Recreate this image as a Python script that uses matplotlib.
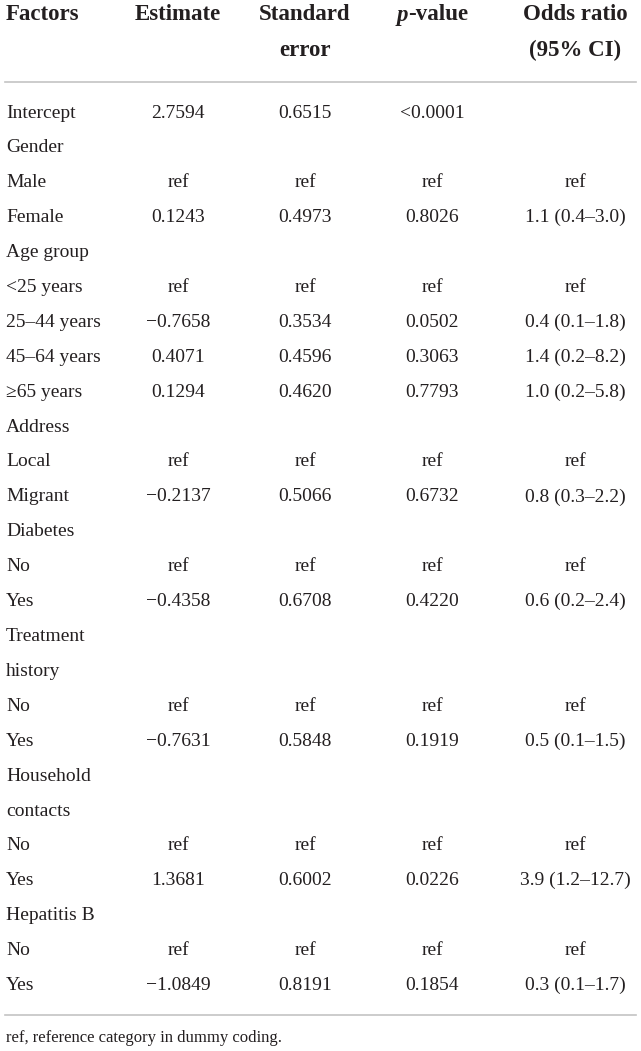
import matplotlib
matplotlib.use("Agg")
import matplotlib.pyplot as plt

# table contents, one entry per printed row ('' = empty cell)
factors = ["Intercept", "Gender", "Male", "Female", "Age group", "<25 years",
           "25\u201344 years", "45\u201364 years", "\u226565 years", "Address",
           "Local", "Migrant", "Diabetes", "No", "Yes", "Treatment", "history",
           "No", "Yes", "Household", "contacts", "No", "Yes", "Hepatitis B",
           "No", "Yes"]
estimate = ["2.7594", "", "ref", "0.1243", "", "ref", "\u22120.7658", "0.4071",
            "0.1294", "", "ref", "\u22120.2137", "", "ref", "\u22120.4358", "", "",
            "ref", "\u22120.7631", "", "", "ref", "1.3681", "", "ref", "\u22121.0849"]
std_error = ["0.6515", "", "ref", "0.4973", "", "ref", "0.3534", "0.4596",
             "0.4620", "", "ref", "0.5066", "", "ref", "0.6708", "", "",
             "ref", "0.5848", "", "", "ref", "0.6002", "", "ref", "0.8191"]
p_value = ["<0.0001", "", "ref", "0.8026", "", "ref", "0.0502", "0.3063",
           "0.7793", "", "ref", "0.6732", "", "ref", "0.4220", "", "",
           "ref", "0.1919", "", "", "ref", "0.0226", "", "ref", "0.1854"]
odds_ratio = ["", "", "ref", "1.1 (0.4\u20133.0)", "", "ref", "0.4 (0.1\u20131.8)",
              "1.4 (0.2\u20138.2)", "1.0 (0.2\u20135.8)", "", "ref", "0.8 (0.3\u20132.2)",
              "", "ref", "0.6 (0.2\u20132.4)", "", "", "ref", "0.5 (0.1\u20131.5)", "", "",
              "ref", "3.9 (1.2\u201312.7)", "", "ref", "0.3 (0.1\u20131.7)"]
footnote = "ref, reference category in dummy coding."

plt.rcParams['font.family'] = ['Liberation Serif', 'DejaVu Serif']
INK = '#231f20'
RULE = '#c4c4c4'
W, H = 641, 1051

fig = plt.figure(figsize=(W / 100, H / 100), dpi=100)
ax = fig.add_axes([0, 0, 1, 1])
ax.set_xlim(0, W)
ax.set_ylim(H, 0)
ax.axis('off')

col_x = [178, 305, 432, 575]
body = dict(fontsize=14, color=INK, va='center')
head = dict(fontsize=16.5, color=INK, va='center', fontweight='bold')

# header
ax.text(6, 15, "Factors", ha='left', **head)
ax.text(col_x[0], 15, "Estimate", ha='center', **head)
ax.text(col_x[1], 15, "Standard", ha='center', **head)
ax.text(col_x[1], 50, "error", ha='center', **head)
ax.text(col_x[3], 15, "Odds ratio", ha='center', **head)
ax.text(col_x[3], 50, "(95% CI)", ha='center', **head)

# "p-value" with italic p, centred as a whole
r = fig.canvas.get_renderer()
tp = ax.text(0, 15, "p", ha='left', fontstyle='italic', **head)
tv = ax.text(0, 15, "-value", ha='left', **head)
wp = tp.get_window_extent(r).width
wv = tv.get_window_extent(r).width
x0 = col_x[2] - (wp + wv) / 2
tp.set_x(x0)
tv.set_x(x0 + wp)

ax.plot([5, 636], [82, 82], color=RULE, lw=1.2)

row0, step = 113, 34.9
for i, name in enumerate(factors):
    y = row0 + step * i
    ax.text(6, y, name, ha='left', **body)
    for cx, col in zip(col_x, [estimate, std_error, p_value, odds_ratio]):
        if col[i]:
            ax.text(cx, y, col[i], ha='center', **body)

ax.plot([5, 636], [1015, 1015], color=RULE, lw=1.2)
ax.text(6, 1038, footnote, ha='left', fontsize=12, color=INK, va='center')

fig.savefig("out.png", dpi=100)
